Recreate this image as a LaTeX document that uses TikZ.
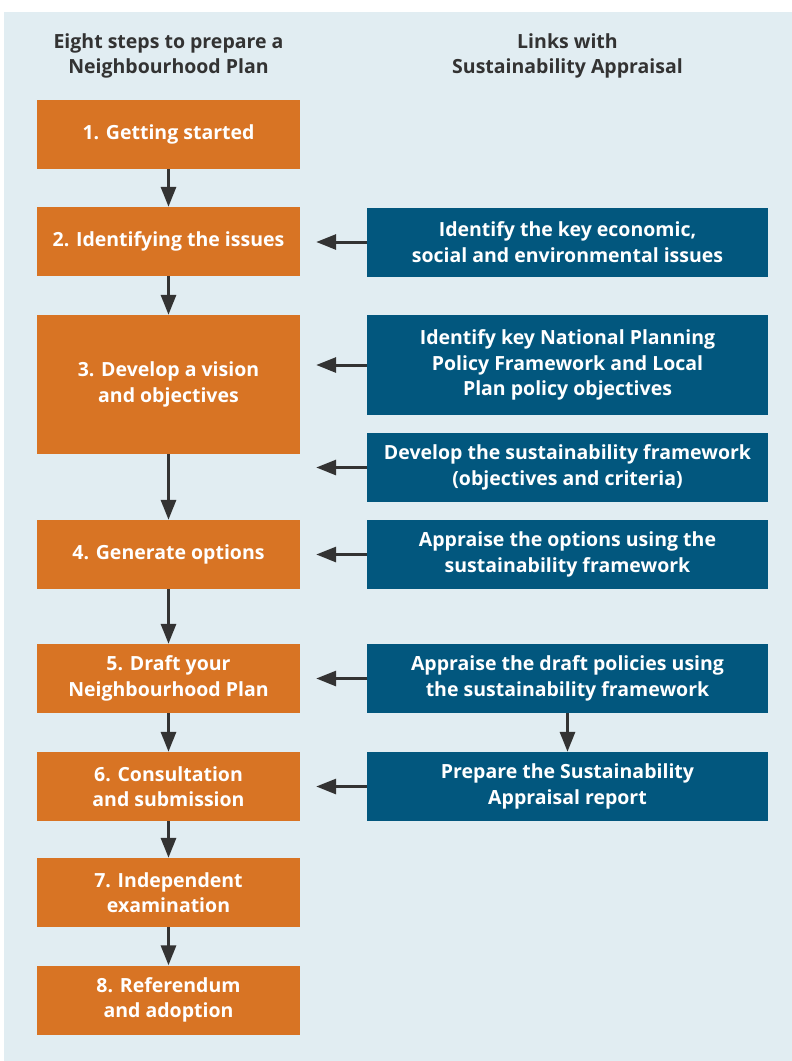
\documentclass[tikz,border=0pt]{standalone}
\usepackage{fontspec}
\setmainfont{Open Sans}
\usetikzlibrary{arrows.meta,positioning}

\definecolor{bgblue}{HTML}{E1EDF2}
\definecolor{steporange}{HTML}{D87424}
\definecolor{linkblue}{HTML}{02577E}
\definecolor{arrowgray}{HTML}{333333}

\begin{document}
\begin{tikzpicture}[
    x=1pt, y=-1pt,
    every node/.style={font=\bfseries\fontsize{19.5}{25.5}\selectfont, align=center},
    head/.style={text=arrowgray},
    stepbox/.style={rectangle, fill=steporange, text=white, minimum width=263pt, minimum height=69pt, inner sep=0pt},
    linkbox/.style={rectangle, fill=linkblue, text=white, minimum width=401pt, minimum height=69pt, inner sep=0pt},
    arr/.style={-{Triangle[length=20pt, width=15pt]}, line width=3pt, draw=arrowgray},
    side/.style={arr, shorten >=16pt}
]
    \useasboundingbox (0,0) rectangle (792,1061);
    \fill[bgblue] (4,12) rectangle (792,1061);

    \node[head] (lefthead) at (168.5,56) {Eight steps to prepare a\\Neighbourhood Plan};
    \node[head] (righthead) at (567.5,56) {Links with\\Sustainability Appraisal};

    % steps
    \node[stepbox] (s1) at (168.5,134.5) {1. Getting started};
    \node[stepbox] (s2) at (168.5,241.5) {2. Identifying the issues};
    \node[stepbox, minimum height=139pt] (s3) at (168.5,384.5) {3. Develop a vision\\and objectives};
    \node[stepbox] (s4) at (168.5,554.5) {4. Generate options};
    \node[stepbox] (s5) at (168.5,678.5) {5. Draft your\\Neighbourhood Plan};
    \node[stepbox] (s6) at (168.5,786.5) {6. Consultation\\and submission};
    \node[stepbox] (s7) at (168.5,892.5) {7. Independent\\examination};
    \node[stepbox] (s8) at (168.5,1000) {8. Referendum\\and adoption};

    % sustainability appraisal
    \node[linkbox] (b1) at (567.5,242) {Identify the key economic,\\social and environmental issues};
    \node[linkbox, minimum height=100pt] (b2) at (567.5,365) {Identify key National Planning\\Policy Framework and Local\\Plan policy objectives};
    \node[linkbox] (b3) at (567.5,467.5) {Develop the sustainability framework\\(objectives and criteria)};
    \node[linkbox] (b4) at (567.5,554.5) {Appraise the options using the\\sustainability framework};
    \node[linkbox] (b5) at (567.5,678.5) {Appraise the draft policies using\\the sustainability framework};
    \node[linkbox] (b6) at (567.5,786.5) {Prepare the Sustainability\\Appraisal report};

    \foreach \a/\b in {s1/s2, s2/s3, s3/s4, s4/s5, s5/s6, s6/s7, s7/s8, b5/b6}
        \draw[arr] (\a) -- (\b);

    \draw[side] (b1.west) -- (s2.east |- b1.west);
    \draw[side] (b2.west) -- (s3.east |- b2.west);
    \draw[side] (b3.west) -- (s3.east |- b3.west);
    \draw[side] (b4.west) -- (s4.east |- b4.west);
    \draw[side] (b5.west) -- (s5.east |- b5.west);
    \draw[side] (b6.west) -- (s6.east |- b6.west);
\end{tikzpicture}
\end{document}
